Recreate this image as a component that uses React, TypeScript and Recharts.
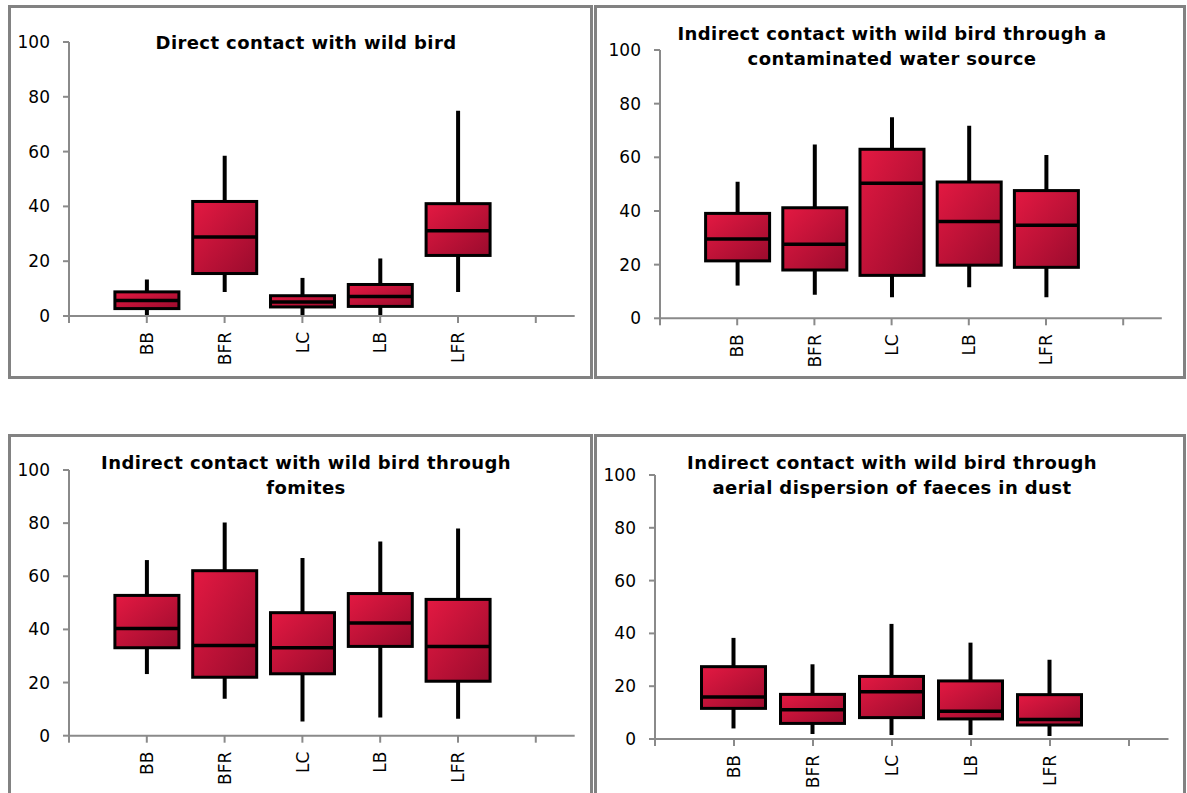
import { Bar, ComposedChart, XAxis, YAxis } from 'recharts';

const categories = ['BB', 'BFR', 'LC', 'LB', 'LFR'];
const yTicks = [0, 20, 40, 60, 80, 100];

// Direct contact with wild bird
const directLow = [0, 8.8, 0, 0, 8.8];
const directQ1 = [2.7, 15.5, 3.3, 3.5, 22.1];
const directMedian = [5.7, 28.8, 5.1, 7.1, 31.1];
const directQ3 = [8.8, 41.8, 7.4, 11.5, 41];
const directHigh = [13.3, 58.5, 13.9, 21, 74.9];

// Indirect contact through a contaminated water source
const waterLow = [12.2, 8.8, 7.8, 11.6, 7.8];
const waterQ1 = [21.4, 18, 16, 19.8, 19];
const waterMedian = [29.6, 27.6, 50.3, 36.1, 34.7];
const waterQ3 = [39.1, 41.2, 63, 50.8, 47.6];
const waterHigh = [50.9, 64.8, 74.9, 71.8, 60.9];

// Indirect contact through fomites
const fomitesLow = [23.2, 13.9, 5.3, 6.8, 6.4];
const fomitesQ1 = [33.1, 22, 23.3, 33.6, 20.5];
const fomitesMedian = [40.3, 33.9, 33.1, 42.4, 33.6];
const fomitesQ3 = [52.8, 62.1, 46.3, 53.5, 51.3];
const fomitesHigh = [66.1, 80.2, 66.9, 73.1, 78];

// Indirect contact through aerial dispersion of faeces in dust
const dustLow = [4, 1.9, 1.5, 1.5, 1.1];
const dustQ1 = [11.6, 5.9, 8.1, 7.6, 5.3];
const dustMedian = [15.9, 11.1, 17.9, 10.5, 7.4];
const dustQ3 = [27.4, 16.9, 23.7, 22, 16.8];
const dustHigh = [38.3, 28.3, 43.6, 36.5, 30];

const FONT = '"DejaVu Sans", Verdana, sans-serif';
const AXIS = '#8a8a8a';

function buildRows(low: number[], q1: number[], med: number[], q3: number[], high: number[]) {
  return categories.map((name, i) => ({
    pos: i + 1,
    name,
    range: [low[i], high[i]],
    low: low[i],
    q1: q1[i],
    median: med[i],
    q3: q3[i],
    high: high[i],
  }));
}

function BoxShape(props: any) {
  const { x, y, width, height, payload, gradId } = props;
  const { low, q1, median, q3, high } = payload;
  // map a value to pixels using the bar's own (scaled) extent
  const pix = (v: number) => y + (height * (high - v)) / (high - low);
  const cx = x + width / 2;
  return (
    <g>
      <line x1={cx} x2={cx} y1={pix(high)} y2={pix(low)} stroke="#000" strokeWidth={4} />
      <rect
        x={x}
        y={pix(q3)}
        width={width}
        height={pix(q1) - pix(q3)}
        fill={`url(#${gradId})`}
        stroke="#000"
        strokeWidth={3}
      />
      <line x1={x} x2={x + width} y1={pix(median)} y2={pix(median)} stroke="#000" strokeWidth={3.5} />
    </g>
  );
}

function XTick(props: any) {
  const { x, y, payload } = props;
  const label = categories[payload.value - 1] || '';
  return (
    <text
      x={x}
      y={y}
      transform={`rotate(-90 ${x} ${y})`}
      textAnchor="end"
      dy="0.36em"
      fontSize={17}
      fontFamily={FONT}
      fill="#000"
    >
      {label}
    </text>
  );
}

type PanelProps = {
  id: string;
  title: string[];
  rows: any[];
  frameLeft: number;
  frameTop: number;
  frameWidth: number;
  frameHeight: number;
  titleTop: number;
  plotLeft: number;
  plotTop: number;
  plotBottom: number;
  step: number;
};

function Panel(p: PanelProps) {
  const yw = 60;
  const xh = 60;
  const mt = 10;
  const chartWidth = yw + 6.5 * p.step + 4;
  const chartHeight = p.plotBottom - p.plotTop + mt + xh;
  const gradId = `boxGrad-${p.id}`;
  return (
    <>
      <div
        style={{
          position: 'absolute',
          left: p.frameLeft,
          top: p.frameTop,
          width: p.frameWidth,
          height: p.frameHeight,
          border: '3px solid #828282',
          boxSizing: 'border-box',
        }}
      />
      <div
        style={{
          position: 'absolute',
          left: p.frameLeft,
          top: p.titleTop,
          width: 596,
          textAlign: 'center',
          fontFamily: FONT,
          fontWeight: 'bold',
          fontSize: 18,
          lineHeight: '25px',
          letterSpacing: 0.4,
          color: '#000',
        }}
      >
        {p.title.map((t) => (
          <div key={t}>{t}</div>
        ))}
      </div>
      <div style={{ position: 'absolute', left: p.plotLeft - yw, top: p.plotTop - mt }}>
        <ComposedChart
          width={chartWidth}
          height={chartHeight}
          data={p.rows}
          margin={{ top: mt, right: 4, bottom: 0, left: 0 }}
        >
          <defs>
            <linearGradient id={gradId} x1="0" y1="0" x2="1" y2="1">
              <stop offset="0%" stopColor="#e41942" />
              <stop offset="100%" stopColor="#9a0b2d" />
            </linearGradient>
          </defs>
          <XAxis
            type="number"
            dataKey="pos"
            domain={[0, 6.5]}
            ticks={[0, 1, 2, 3, 4, 5, 6]}
            allowDataOverflow
            height={xh}
            stroke={AXIS}
            strokeWidth={2}
            tickSize={7}
            tickMargin={9}
            tick={<XTick />}
            interval={0}
          />
          <YAxis
            type="number"
            domain={[0, 100]}
            ticks={yTicks}
            width={yw}
            stroke={AXIS}
            strokeWidth={2}
            tickSize={6}
            tickMargin={13}
            tick={{ fill: '#000', fontSize: 17, fontFamily: FONT }}
            interval={0}
          />
          <Bar
            dataKey="range"
            barSize={64}
            isAnimationActive={false}
            shape={(s: any) => <BoxShape {...s} gradId={gradId} />}
          />
        </ComposedChart>
      </div>
    </>
  );
}

export default function App() {
  return (
    <div style={{ position: 'absolute', left: 0, top: 0, width: 1187, height: 793, background: '#fff', overflow: 'hidden' }}>
      <Panel
        id="direct"
        title={['Direct contact with wild bird']}
        rows={buildRows(directLow, directQ1, directMedian, directQ3, directHigh)}
        frameLeft={8}
        frameTop={5}
        frameWidth={585}
        frameHeight={374}
        titleTop={29.7}
        plotLeft={68.5}
        plotTop={41.7}
        plotBottom={315.7}
        step={77.8}
      />
      <Panel
        id="water"
        title={['Indirect contact with wild bird through a', 'contaminated water source']}
        rows={buildRows(waterLow, waterQ1, waterMedian, waterQ3, waterHigh)}
        frameLeft={594}
        frameTop={5}
        frameWidth={592}
        frameHeight={374}
        titleTop={20.7}
        plotLeft={660}
        plotTop={50}
        plotBottom={318.3}
        step={77.2}
      />
      <Panel
        id="fomites"
        title={['Indirect contact with wild bird through', 'fomites']}
        rows={buildRows(fomitesLow, fomitesQ1, fomitesMedian, fomitesQ3, fomitesHigh)}
        frameLeft={8}
        frameTop={434}
        frameWidth={585}
        frameHeight={380}
        titleTop={450.3}
        plotLeft={68.5}
        plotTop={470}
        plotBottom={735.7}
        step={77.8}
      />
      <Panel
        id="dust"
        title={['Indirect contact with wild bird through', 'aerial dispersion of faeces in dust']}
        rows={buildRows(dustLow, dustQ1, dustMedian, dustQ3, dustHigh)}
        frameLeft={594}
        frameTop={434}
        frameWidth={592}
        frameHeight={380}
        titleTop={449.7}
        plotLeft={655}
        plotTop={475}
        plotBottom={739}
        step={79}
      />
    </div>
  );
}
